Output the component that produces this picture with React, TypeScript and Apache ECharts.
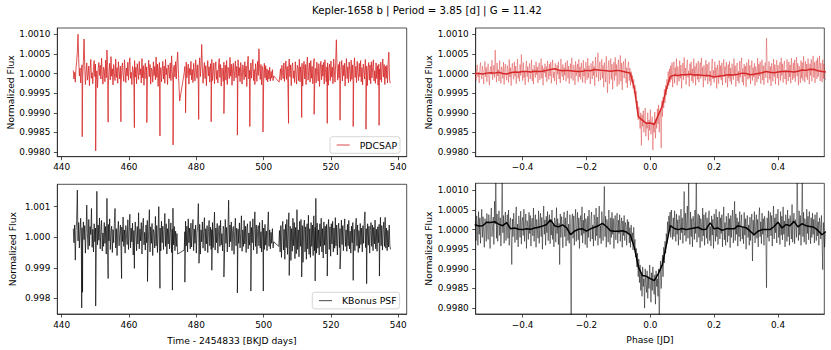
import React, { useEffect, useRef } from "react";
import * as echarts from "echarts";

// ---------- texts & ticks ----------
const TITLE = "Kepler-1658 b | Period = 3.85 [d] | G = 11.42";
const Y_NAME = "Normalized Flux";
const X_NAME_TIME = "Time - 2454833 [BKJD days]";
const X_NAME_PHASE = "Phase [JD]";
const TIME_TICKS = [440, 460, 480, 500, 520, 540];
const PHASE_TICKS = [-0.4, -0.2, 0, 0.2, 0.4];
const FLUX_TICKS_FINE = [0.998, 0.9985, 0.999, 0.9995, 1.0, 1.0005, 1.001];
const FLUX_TICKS_COARSE = [0.998, 0.999, 1.0, 1.001];

// ---------- data ----------
// Flux values are offsets from 1.0 in units of 1e-5 (10 ppm).
const UNIT = 1e-5;
const CADENCE = 0.2; // days between plotted samples

// PDCSAP light curve, three continuous segments
const PDC_A_START = 443.45;
const PDC_A = [
  8, -14, 3, -22, 12, 30, 55, 100, 38, -6,
  14, -24, 6, 22, -9, 31, 88, 20, -28, 4,
  27, -17, -3, 19, -31, 11, 36, -12, 2, -26,
  17, 33, -8, 24, -19, 7, -36, 13, 28, -5,
  21, -14, 39, -2, -27, 16, 9, -21, 34, -11,
  60, 18, -33, 5, 26, -16, 43, -7, 12, -29,
  23, 1, -18, 37, -10, 15, -25, 30, 6, -14,
  19, -32, 11, 27, -4, -20, 35, 8, -23, 14,
  -6, 29, -17, 22, 40, -12, 3, -28, 18, 10,
  -21, 33, -9, 16, -26, 25, 4, -15, 31, -3,
  12, -24, 38, -11, 20, -30, 7, 26, -13, 17,
  -19, 2, 34, -8, 23, -27, 14, 9, -22, 30,
  -5, 18, -16, 42, -10, 24, -33, 11, 28, -7,
  15, -21, 6, 31, -14, 19, -25, 36, -3, 13,
  -28, 22, 9, -12, 27, -18, 45, 4, -23, 16,
  21, -9, 30, -14, 26, 55, 12, -30, -70,
];
const PDC_B_START = 476.4;
const PDC_B = [
  2, 18, -21, 29, -11, 7, 24, -27, 13, -4,
  31, -16, 10, -23, 26, 3, -19, 35, 9, -12,
  22, -29, 15, 40, -8, 18, 74, 14, -25, 6,
  28, -13, 20, -31, 11, 33, -6, 17, -22, 25,
  -9, 36, -18, 4, 27, -26, 12, 30, -15, 8,
  -24, 19, 38, -10, 23, -32, 14, 5, -20, 29,
  -3, 21, -17, 33, -28, 16, 9, -13, 41, -7,
  24, -30, 13, 26, -19, 6, 32, -11, 18, -25,
  35, -6, 15, -21, 28, 2, -27, 22, 11, -16,
  30, -9, 19, -33, 24, 44, -14, 8, -23, 27,
  -12, 17, 36, -18, 10, -28, 25, 4, -20, 31,
  -5, 63, 14, -15, 23, -29, 18, 7, -24, 26,
  -11, 20, -17, 12, -21, 8, -14, 16, -19, 5,
  -12, 10, -18, -6,
];
const PDC_C_START = 504.6;
const PDC_C = [
  -22, -6, 12, -17, 21, 3, -13, 27, -20, 9,
  32, -15, 18, -26, 13, 37, -8, 22, -31, 16,
  27, -12, 7, -23, 30, -2, -27, 21, 14, -18,
  36, -21, 17, -9, 26, -32, 11, 31, -14, 23,
  -28, 15, 42, -17, 8, 27, -22, 33, -12, 18,
  -26, 21, 38, -8, 13, -24, 29, 5, -19, 25,
  -33, 12, 31, -16, 22, -7, 28, -27, 35, 3,
  -21, 17, 27, -30, 12, 24, -18, 32, -9, 16,
  -26, 37, 8, -22, 27, 86, 19, -17, 23, -11,
  30, -28, 14, 33, -19, 21, -6, 26, -32, 10,
  38, -13, 17, -24, 29, 6, -20, 34, -15, 22,
  -27, 13, 40, -10, 18, -23, 31, 2, -18, 26,
  -8, 33, -21, 15, -29, 24, 9, -14, 36, -5,
  19, -31, 12, 28, -17, 22, -26, 30, -11, 16,
  35, -19, 7, -25, 27, -13, 20, -30, 24, 11,
  -16, 29, -22, 14, 37, -9, 23, -28, 18, -12,
  21, -24, 32, 54, -14, -25,
];
// in-transit samples of PDCSAP: [time, offset]
const PDC_TRANSITS = [
  [446.1, -161], [450.1, -197], [453.8, -124], [457.6, -123], [461.6, -138],
  [465.3, -125], [469.2, -159], [473.1, -182], [476.8, -100], [480.7, -117],
  [484.4, -123], [488.2, -102], [492.2, -157], [495.9, -135], [499.8, -149],
  [507.4, -127], [511.3, -112], [515.0, -104], [518.9, -127], [522.7, -119],
  [526.6, -135], [530.4, -142], [534.3, -132],
];

// KBonus PSF light curve
const KB_A_START = 443.45;
const KB_A = [
  28, -18, 40, -75, 22, 55, 154, -12, 48, -35,
  20, 62, -44, 31, -22, 50, -8, 38, -52, 17,
  105, 12, -40, 58, -28, 35, 9, 94, -33, 26,
  -48, 44, -15, 30, -58, 150, -25, 40, -10, 63,
  -38, 22, 55, -45, 14, -30, 48, -20, 35, -55,
  127, -26, 42, -12, 60, -40, 18, 36, -50, 25,
  -18, 45, 94, -35, 28, -60, 20, 52, -28, 10,
  40, -46, 33, -14, 66, -30, 24, -52, 38, 8,
  -24, 57, -40, 19, 75, -35, 30, -15, 46, -58,
  22, -30, 50, 12, -44, 35, -22, 80, -38, 27,
  -12, 48, -55, 30, 62, -25, 16, -42, 40, -18,
  55, -36, 20, 90, -48, 34, -20, 45, -60, 25,
  12, -35, 68, -28, 38, -50, 20, 100, -32, 30,
  -45, 52, -18, 36, -40, 22, 78, -30, 44, -55,
  28, -22, 60, -38, 15, 47, -50, 26, 95, -25,
  35, -44, 20, -30, 12, -55,
];
const KB_B_START = 476.4;
const KB_B = [
  -42, 18, 52, -28, 36, -48, 60, -18, 30, -38,
  46, -32, 22, 58, -44, 27, -20, 40, -52, 15,
  35, 110, -30, 42, -55, 24, -15, 50, -36, 20,
  64, -45, 28, -22, 38, -50, 18, 55, -28, 33,
  -40, 25, 48, -34, 16, 82, -42, 30, -18, 45,
  -52, 20, 38, -30, 55, -25, 12, -45, 36, 24,
  -38, 58, -20, 32, -48, 27, 121, -32, 40, -15,
  50, -44, 22, 35, -56, 18, 62, -28, 30, -40,
  26, -20, 47, -35, 15, 70, -46, 24, -30, 55,
  -22, 36, -50, 28, 44, -38, 14, -26, 52, -45,
  32, -18, 60, -42, 25, 83, -30, 40, -54, 20,
  38, -28, 48, -36, 18, -48, 56, -22, 30, -40,
  42, -26, 20, -44, 34, 83, -30, 24, -38, 16,
  -20, 28, -35, -15,
];
const KB_C_START = 504.5;
const KB_C = [
  -30, 22, -48, 38, -66, 30, 52, -42, 26, -72,
  42, -34, 58, -56, 20, 80, -62, 36, -76, 28,
  -46, 62, -28, 48, -70, 32, -54, 90, -40, 24,
  -64, 52, -30, 58, -62, 38, -82, 30, 56, -48,
  34, -72, 44, -38, 72, -56, 28, -66, 48, -30,
  40, -60, 70, -44, 32, 127, -52, 46, -36, 24,
  -58, 44, -30, 62, -48, 28, -68, 50, -26, 36,
  -55, 42, -70, 26, 58, -40, 34, -62, 44, -22,
  52, -48, 30, -36, 64, -28, 40, -58, 22, 46,
  -34, 28, -50, 56, -24, 38, -44, 30, 60, -30,
  24, -46, 42, -28, 55, -38, 20, -52, 36, -18,
  48, -32, 26, -44, 34, 62, -28, 40, -50, 22,
  -36, 45, -24, 30, -48, 38, -20, 52, 83, -34,
  28, -40, 44, -26, 36, -52, 22, 48, -30, 40,
  -44, 32, -22, 56, -38, 26, -46, 34, -18, 42,
  -35, 65, -28, 38, -42, 24, 50, -30, 65, -36,
  30, -44, 22, -32, 40, -26, -40,
];
const KB_TRANSITS = [
  [445.95, -231], [446.2, -180], [450.1, -225], [453.8, -135], [457.8, -135],
  [461.6, -102], [465.5, -145], [469.2, -167], [472.9, -173], [476.6, -147],
  [480.8, -85], [484.6, -108], [488.2, -130], [492.2, -182], [496.2, -176],
  [499.9, -176], [507.6, -125], [511.3, -130], [515.3, -143], [518.9, -127],
  [522.7, -104], [526.6, -141], [530.6, -152], [534.4, -127],
];

// Phase-folded samples (phase grid start / spacing)
const PH_START = -0.548;
const PH_STEP = 0.002;
const PDC_FOLD = [
  6, -18, 12, 22, -9, 3, -24, 15, 28, -5,
  -14, 19, 2, -27, 11, 31, -8, 16, -21, 7,
  25, -12, -30, 9, 18, -3, 34, -16, 4, 21,
  -10, 60, 14, -22, 27, -6, 10, -19, 33, 1,
  -25, 17, 8, -13, 29, -28, 13, 24, -4, -17,
  20, 5, -23, 36, -9, 15, -31, 11, 26, -2,
  -15, 30, -7, 19, -26, 8, 37, -12, 3, -20,
  23, -5, 48, 12, -18, 28, -11, 6, -29, 16,
  32, -8, 18, -22, 9, 26, -14, 2, 35, -19,
  11, -27, 21, 7, -10, 30, -3, 17, -24, 14,
  27, -16, 5, 38, -12, 20, -30, 13, 1, 25,
  -9, 18, -21, 32, 8, -15, 24, -6, 29, -25,
  12, 35, -11, 4, -19, 26, 16, -28, 21, -2,
  30, -14, 9, -24, 37, 3, -8, 23, -17, 15,
  -4, 28, -20, 11, 33, -12, 19, -26, 7, 25,
  -13, 40, 2, -18, 22, 14, -29, 31, -6, 10,
  24, -21, 36, -9, 17, -15, 27, 5, -23, 34,
  -7, 13, -25, 29, 8, -16, 39, -11, 20, 3,
  -27, 26, 12, -14, 32, -5, 18, -31, 42, 9,
  -10, 25, 53, -20, 15, 30, -17, 6, 36, -12,
  21, -35, 28, 10, -22, 44, -8, -49, 17, 33,
  -26, 14, 38, -15, 24, -40, 9, 29, -18, 41,
  -6, 23, -33, 16, 35, -28, 11, 46, -20, 27,
  -42, 19, 31, -12, 8, 38, -24, 15, -36, 22,
  30, -18, 14, -30, 5, -22, -5, -38, -15, -50,
  -30, -62, -45, -90, -70, -118, -85, -110, -140, -100,
  -183, -105, -135, -95, -150, -120, -88, -160, -125, -140,
  -100, -170, -118, -145, -92, -155, -130, -110, -195, -125,
  -150, -98, -165, -115, -140, -90, -128, -80, -150, -100,
  -95, -190, -70, -110, -60, -88, -40, -75, -30, -55,
  -15, -40, 5, -30, 12, -22, 20, -15, 28, -35,
  8, 30, -25, 15, -8, 38, -30, 18, 4, -20,
  33, -12, 22, -38, 10, 27, -16, 41, -6, 14,
  -28, 20, 35, -10, 7, -33, 25, -2, 30, -19,
  12, -24, 38, -8, 18, -30, 26, 4, -15, 32,
  -22, 9, 28, -13, 40, -5, 16, -35, 21, 3,
  -18, 34, -9, 24, -27, 12, 29, -20, 6, -31,
  19, 37, -14, 8, -23, 30, -6, 15, -38, 22,
  5, -26, 33, -11, 20, -17, 27, -30, 12, 36,
  -8, 18, -24, 29, 2, -35, 23, -12, 31, -20,
  14, -28, 25, 9, -16, 38, -4, 20, -33, 11,
  27, -19, 6, -25, 32, -10, 17, 40, -22, 13,
  -30, 24, -7, 19, -34, 28, 3, -15, 36, -12,
  21, -27, 10, 33, -18, 15, -9, 26, -31, 18,
  7, -22, 39, -14, 24, -6, 30, -26, 12, 35,
  -17, 20, -29, 14, 28, -11, 90, 22, -24, 9,
  31, -15, 18, -32, 26, 5, -20, 37, -8, 23,
  -27, 16, 34, -12, 21, -30, 10, 29, -18, 40,
  -5, 25, -23, 18, 32, -14, 8, -28, 36, 12,
  -19, 30, -9, 22, -25, 39, 4, -16, 27, -11,
  35, -21, 14, 42, -7, 26, -30, 19, 8, -24,
  33, -12, 28, -18, 44, 6, -22, 31, -9, 24,
  -16, 38, 11, -27, 25, -5, 36, -20, 17, 45,
  -10, 29, -24, 21, 33, -14, 40, -8, 18, 45,
  -19, 27, 6, -22, 35, -13, 24, 10, -17,
];
const KB_FOLD = [
  22, -28, 35, 8, -40, 46, -12, 30, -35, 18,
  52, -20, 33, -6, -45, 28, 12, -30, 41, 3,
  -25, 38, 15, -48, 26, 55, -18, 9, 32, -38,
  72, 14, 160, -22, 40, -30, 21, 48, -15, 30,
  -42, 25, 150, -8, 36, -35, 19, 45, -28, 11,
  38, -22, 50, -40, 16, 30, -12, -89, 27, -18,
  42, 5, -33, 24, 58, -26, 14, -44, 35, 9,
  -20, 47, -37, 20, 31, -15, 52, -30, 12, 40,
  -48, 23, 8, -25, 44, -10, 36, -42, 18, 29,
  -16, 55, -30, 10, 38, -45, 26, 6, -22, 48,
  -35, 20, 42, -18, 31, -50, 15, 60, -12, 25,
  -40, 34, -8, 46, -28, 18, 38, -36, 22, -14,
  50, -25, 12, -44, 30, 20, -32, 56, -10, 28,
  -38, 16, -89, 40, -20, 33, 8, -46, 26, 45,
  -18, 30, -42, 22, 48, -28, 14, -35, 38, 6,
  -260, 25, 40, -22, 35, -40, 18, 52, -30, 12,
  44, -26, 30, -48, 20, 36, -15, 58, -34, 24,
  -10, 42, -38, 28, 15, -46, 34, -20, 50, 8,
  -30, 26, 45, -24, 12, -42, 38, 20, -28, 55,
  -16, 32, -40, 24, 60, -22, 10, -36, 46, 18,
  -28, 40, 110, -18, 34, -45, 26, 14, -32, 50,
  6, -38, 30, -20, 44, -12, 28, -48, 20, 36,
  -26, 16, 42, -35, 24, -10, 38, -30, 12, 30,
  -45, 22, -15, 36, -28, 18, 8, -40, 26, -12,
  20, -34, 5, -45, 12, -30, -8, -52, 6, -40,
  -25, -70, -48, -95, -60, -120, -75, -135, -90, -155,
  -110, -170, -95, -145, -125, -200, -100, -140, -160, -105,
  -175, -120, -150, -90, -130, -185, -110, -155, -95, -140,
  -165, -115, -190, -105, -145, -125, -170, -100, -260, -130,
  -80, -150, -110, -65, -120, -45, -85, -30, -60, -10,
  -35, 20, -15, 35, 5, 45, -20, 50, 10, -25,
  30, -18, 48, 8, -30, 40, -12, 25, -40, 36,
  14, -26, 52, -8, 30, -35, 20, 97, -15, 42,
  -30, 26, 60, -22, 120, 10, -38, 45, -18, 28,
  -44, 34, 18, -25, 50, -10, 160, -32, 22, 40,
  -20, 36, -46, 28, 12, -30, 55, -16, 38, -40,
  24, 44, -22, 30, -36, 16, 48, -28, 8, -42,
  35, -14, 26, -48, 40, 20, -30, 52, -18, 32,
  -38, 14, 46, -24, 30, -10, 38, -44, 22, 58,
  -26, 18, -40, 34, 12, -32, 42, -16, 28, -46,
  36, -20, 25, 50, -34, 16, 72, -28, 40, -12,
  30, -42, 20, -18, 46, -30, 14, 38, -24, 8,
  -36, 44, -14, 28, -50, 22, 36, -20, 12, -40,
  32, -28, 18, 40, -80, 24, -16, 46, -34, 10,
  38, -22, 26, -44, 30, 56, -18, 20, -36, 42,
  -12, 28, -40, 34, 14, -26, -148, 30, -20, 48,
  -30, 22, 44, -16, 36, -42, 18, 60, -24, 30,
  -8, 40, -34, 26, 52, -20, 12, -38, 46, -14,
  34, -26, 58, -12, 22, -44, 38, 16, -30, 50,
  -18, 28, -40, 36, 10, -24, 64, -32, 20, 42,
  -36, 26, 12, -20, 160, 30, -28, 48, -14, 36,
  -40, 22, 150, -18, 44, -32, 28, 14, -38, 52,
  -10, 34, -26, 46, 18, -36, 30, -20, 42, -12,
  26, -34, 38, 8, -28, 44, -16, 20, -40, 30,
  12, -24, 36, -30, -102, 18, -20, -45, -10,
];

// Binned folded curves (bin centres start / spacing)
const BIN_START = -0.55;
const BIN_STEP = 0.0125;
const PDC_BINNED = [
  0, 0, -1, 1, 2, 1, 3, 0, -1, 2,
  4, 3, 5, 5, 4, 6, 5, 6, 8, 10,
  12, 9, 7, 8, 7, 6, 5, 6, 8, 7,
  10, 9, 8, 7, 6, 7, 8, 6, 3, 1,
  -38, -110, -119, -127, -126, -130, -106, -82, -40, -8,
  -4, -5, -3, -3, -2, -4, -3, -5, -5, -6,
  -9, -7, -6, -4, -3, -4, -2, 1, 0, -3,
  -2, 0, 2, 5, 3, 2, 4, 5, 6, 5,
  4, 6, 9, 8, 11, 10, 7, 5, 4,
];
const KB_BINNED = [
  13, 9, 10, 19, 18, 20, 14, 10, 18, 2,
  4, 1, 0, 2, 1, 4, 6, 9, 13, 25,
  10, 7, 12, 5, -13, -4, 1, 2, -4, 2,
  6, 10, 16, 8, -3, -4, -4, -3, -6, -14,
  -45, -95, -117, -119, -125, -130, -112, -90, -40, 10,
  3, 0, 3, 0, 2, 4, 6, 0, 1, 17,
  2, 4, -2, 2, 2, 2, 10, 7, 5, -4,
  -13, -4, 0, 0, 0, 8, 19, 4, 13, 10,
  21, 7, 15, 10, 8, 6, -2, -13, -5,
];

// ---------- helpers ----------
const flux = (v: number) => 1 + v * UNIT;

function lightCurve(
  segments: [number, number[]][],
  transits: number[][]
): number[][] {
  const pts: number[][] = [];
  segments.forEach(([start, vals]) => {
    vals.forEach((v, i) => pts.push([start + i * CADENCE, flux(v)]));
  });
  transits.forEach(([t, v]) => pts.push([t, flux(v)]));
  pts.sort((a, b) => a[0] - b[0]);
  return pts;
}
const grid1d = (start: number, step: number, vals: number[]) =>
  vals.map((v, i) => [start + i * step, flux(v)]);

const INK = "#262626";
const FONT = "DejaVu Sans";

const fmtPhase = (v: number) =>
  (v < -1e-9 ? "\u2212" : "") + Math.abs(v).toFixed(1);

function xAxisCfg(gridIndex: number, min: number, max: number, ticks: number[], fmt: (v: number) => string, name?: string, nameGap?: number) {
  return {
    type: "value",
    gridIndex,
    min,
    max,
    name: name || "",
    nameLocation: "middle",
    nameGap: nameGap || 20,
    nameTextStyle: { fontSize: 9.2, color: "#000", fontFamily: FONT },
    axisLine: { show: true, onZero: false, lineStyle: { color: INK, width: 0.8 } },
    axisTick: { show: true, customValues: ticks, length: 3.5, lineStyle: { color: INK, width: 0.8 } },
    axisLabel: { show: true, customValues: ticks, formatter: fmt, fontSize: 8.9, color: "#000", margin: 6, fontFamily: FONT },
    splitLine: { show: false },
  };
}
function yAxisCfg(gridIndex: number, min: number, max: number, ticks: number[], digits: number, nameGap: number) {
  return {
    type: "value",
    gridIndex,
    min,
    max,
    name: Y_NAME,
    nameLocation: "middle",
    nameGap,
    nameTextStyle: { fontSize: 9.2, color: "#000", fontFamily: FONT },
    axisLine: { show: true, onZero: false, lineStyle: { color: INK, width: 0.8 } },
    axisTick: { show: true, customValues: ticks, length: 3.5, lineStyle: { color: INK, width: 0.8 } },
    axisLabel: { show: true, customValues: ticks, formatter: (v: number) => v.toFixed(digits), fontSize: 8.9, color: "#000", margin: 7, fontFamily: FONT },
    splitLine: { show: false },
  };
}

export default function App() {
  const ref = useRef<HTMLDivElement>(null);
  useEffect(() => {
    document.body.style.margin = "0";
    if (!ref.current) return;
    const chart = echarts.init(ref.current, null, { renderer: "svg" });

    const pdc = lightCurve([[PDC_A_START, PDC_A], [PDC_B_START, PDC_B], [PDC_C_START, PDC_C]], PDC_TRANSITS);
    const kb = lightCurve([[KB_A_START, KB_A], [KB_B_START, KB_B], [KB_C_START, KB_C]], KB_TRANSITS);

    const gridStyle = { show: true, borderColor: INK, borderWidth: 0.8, backgroundColor: "transparent" };
    const legendBase = {
      orient: "horizontal",
      selectedMode: false,
      itemWidth: 13,
      itemHeight: 1.2,
      borderColor: "#cccccc",
      borderWidth: 0.8,
      borderRadius: 2.5,
      backgroundColor: "rgba(255,255,255,0.8)",
      padding: [3, 3, 3, 6.7],
      textStyle: { fontSize: 9.3, color: "#000", fontFamily: FONT, padding: [0, 0, 0, 5], lineHeight: 10.6 },
    };

    chart.setOption({
      animation: false,
      textStyle: { fontFamily: FONT },
      title: {
        text: TITLE,
        left: 312,
        top: 5,
        padding: 0,
        textStyle: { fontSize: 10.2, fontWeight: "normal", color: "#000", fontFamily: FONT },
      },
      grid: [
        { left: 57.3, top: 28, width: 349.4, height: 128.7, ...gridStyle },
        { left: 475.7, top: 28, width: 348.6, height: 128.7, ...gridStyle },
        { left: 57.3, top: 184.3, width: 349.4, height: 129.7, ...gridStyle },
        { left: 475.7, top: 183.3, width: 348.6, height: 130.7, ...gridStyle },
      ],
      xAxis: [
        xAxisCfg(0, 438.7, 542.5, TIME_TICKS, (v) => String(v)),
        xAxisCfg(1, -0.547, 0.545, PHASE_TICKS, fmtPhase),
        xAxisCfg(2, 438.7, 542.5, TIME_TICKS, (v) => String(v), X_NAME_TIME, 22),
        xAxisCfg(3, -0.547, 0.545, PHASE_TICKS, fmtPhase, X_NAME_PHASE, 20.5),
      ],
      yAxis: [
        yAxisCfg(0, 0.99788, 1.00116, FLUX_TICKS_FINE, 4, 40),
        yAxisCfg(1, 0.99788, 1.00116, FLUX_TICKS_FINE, 4, 43),
        yAxisCfg(2, 0.99749, 1.00173, FLUX_TICKS_COARSE, 3, 40),
        yAxisCfg(3, 0.99785, 1.00118, FLUX_TICKS_FINE, 4, 43),
      ],
      legend: [
        {
          ...legendBase,
          left: 330,
          top: 136.7,
          data: [{ name: "PDCSAP", icon: "rect", itemStyle: { color: "rgba(214,39,40,0.7)" } }],
        },
        {
          ...legendBase,
          left: 312.3,
          top: 292.3,
          data: [{ name: "KBonus PSF", icon: "rect", itemStyle: { color: "rgba(0,0,0,0.6)" } }],
        },
      ],
      series: [
        {
          name: "PDCSAP", type: "line", xAxisIndex: 0, yAxisIndex: 0, data: pdc,
          showSymbol: false, symbol: "none", clip: true,
          itemStyle: { color: "rgba(214,39,40,0.7)" },
          lineStyle: { color: "#d62728", width: 0.9, opacity: 0.9 },
        },
        {
          name: "PDCSAP folded", type: "line", xAxisIndex: 1, yAxisIndex: 1, data: grid1d(PH_START, PH_STEP, PDC_FOLD),
          showSymbol: false, symbol: "none", clip: true,
          lineStyle: { color: "#d62728", width: 0.8, opacity: 0.5 },
        },
        {
          name: "PDCSAP binned", type: "line", xAxisIndex: 1, yAxisIndex: 1, data: grid1d(BIN_START, BIN_STEP, PDC_BINNED),
          showSymbol: false, symbol: "none", clip: true,
          lineStyle: { color: "#d62728", width: 1.5 },
        },
        {
          name: "KBonus PSF", type: "line", xAxisIndex: 2, yAxisIndex: 2, data: kb,
          showSymbol: false, symbol: "none", clip: true,
          itemStyle: { color: "rgba(0,0,0,0.6)" },
          lineStyle: { color: "#000", width: 0.8, opacity: 0.85 },
        },
        {
          name: "KBonus folded", type: "line", xAxisIndex: 3, yAxisIndex: 3, data: grid1d(PH_START, PH_STEP, KB_FOLD),
          showSymbol: false, symbol: "none", clip: true,
          lineStyle: { color: "#000", width: 0.8, opacity: 0.6 },
        },
        {
          name: "KBonus binned", type: "line", xAxisIndex: 3, yAxisIndex: 3, data: grid1d(BIN_START, BIN_STEP, KB_BINNED),
          showSymbol: false, symbol: "none", clip: true,
          lineStyle: { color: "#000", width: 1.5 },
        },
      ],
    });
    return () => chart.dispose();
  }, []);
  return (
    <div style={{ position: "absolute", left: 0, top: 0, width: 831, height: 350, background: "#fff" }}>
      <div ref={ref} style={{ width: 831, height: 350 }} />
    </div>
  );
}
